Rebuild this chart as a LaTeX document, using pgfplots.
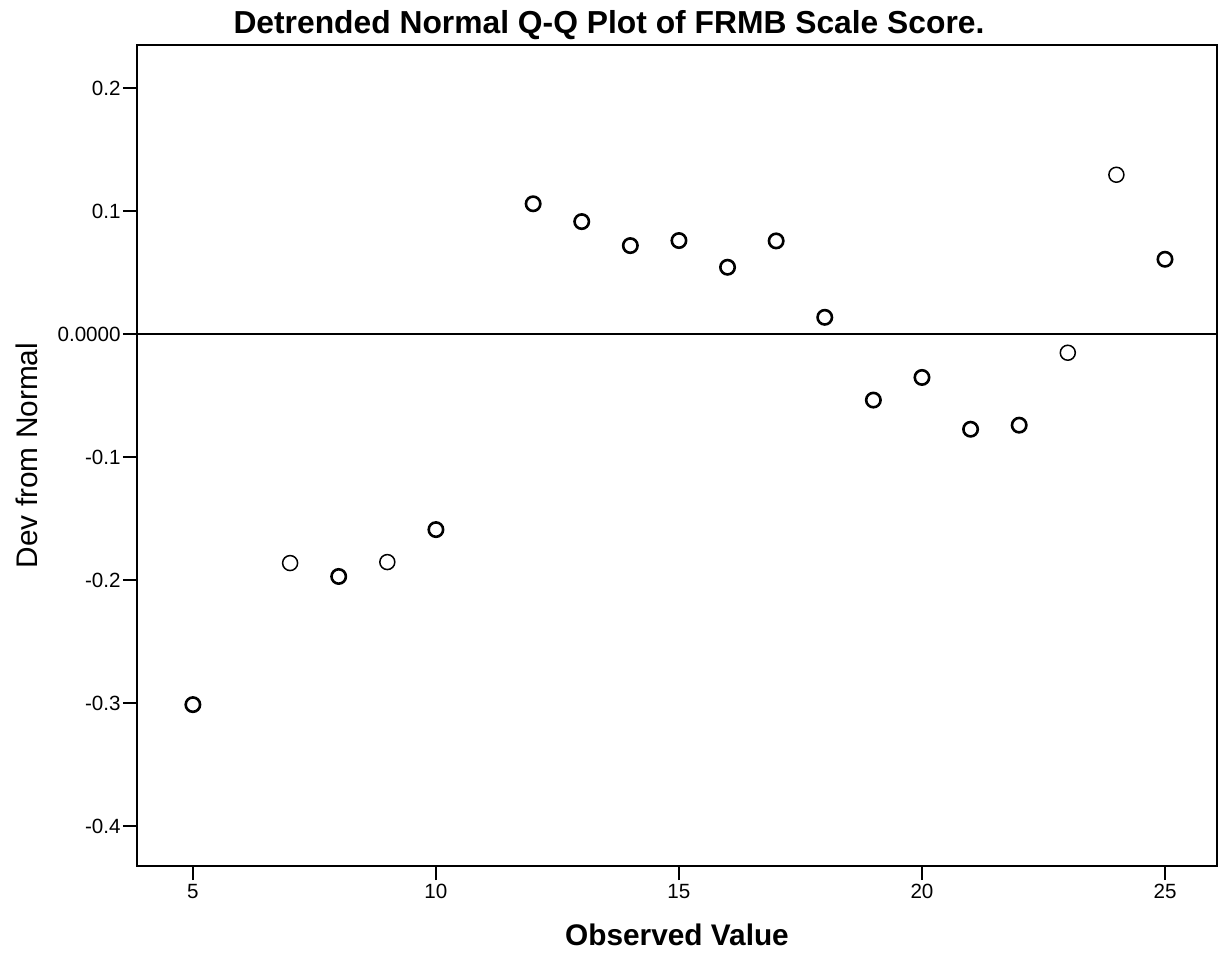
\documentclass[border=0pt]{standalone}
\usepackage{fontspec}
\setmainfont{Liberation Sans}
\usepackage{pgfplots}
\pgfplotsset{compat=1.18}

\begin{document}
\begin{tikzpicture}
\begin{axis}[
    scale only axis,
    width=540pt, height=410.5pt,
    xmin=3.85, xmax=26.07,
    ymin=-0.4325, ymax=0.235,
    axis line style={black, line width=1pt},
    xtick={5,10,15,20,25},
    xticklabels={5,10,15,20,25},
    ytick={-0.4,-0.3,-0.2,-0.1,0,0.1,0.2},
    yticklabels={-0.4,-0.3,-0.2,-0.1,0.0000,0.1,0.2},
    xtick pos=lower, ytick pos=left,
    tick align=outside,
    major tick length=7pt,
    every tick/.style={black, line width=1pt},
    tick label style={font=\fontsize{10.3}{12}\selectfont},
    xticklabel style={inner sep=1pt, yshift=-1pt},
    yticklabel style={inner sep=1pt},
    xlabel={Observed Value},
    ylabel={Dev from Normal},
    xlabel style={font=\fontsize{14.9}{17}\selectfont\bfseries,
        at={(axis description cs:0.5,-0.084)}, anchor=center},
    ylabel style={font=\fontsize{14.9}{17}\selectfont,
        at={(axis description cs:-0.1019,0.5)}, anchor=center},
    clip=false,
]
% reference line at zero
\addplot[black, line width=1pt] coordinates {(3.85,0) (26.07,0)};
% single-case points
\addplot[only marks, mark=o, mark size=3.75pt,
    mark options={black, line width=0.75pt}] coordinates {
    (7,-0.1862) (9,-0.1854) (23,-0.0152) (24,0.1295)
};
% points with several cases
\addplot[only marks, mark=o, mark size=3.6pt,
    mark options={black, line width=1.3pt}] coordinates {
    (5,-0.3013) (8,-0.1971) (10,-0.1590)
    (12,0.1059) (13,0.0914) (14,0.0719) (15,0.0760) (16,0.0543)
    (17,0.0757) (18,0.0136) (19,-0.0537) (20,-0.0353) (21,-0.0774)
    (22,-0.0741) (25,0.0608)
};
\end{axis}
% title, centred over the whole picture as in the reference
\node[font=\fontsize{15.9}{18}\selectfont\bfseries, anchor=base]
    at ([xshift=236pt, yshift=5.5pt]current axis.north west)
    {Detrended Normal Q-Q Plot of FRMB Scale Score.};
\path (current axis.south west) ++(-68.5pt,-44.5pt) coordinate (bbl);
\path (current axis.north east) ++(4pt,22.5pt) coordinate (bbr);
\pgfresetboundingbox
\useasboundingbox (bbl) rectangle (bbr);
\end{tikzpicture}
\end{document}
